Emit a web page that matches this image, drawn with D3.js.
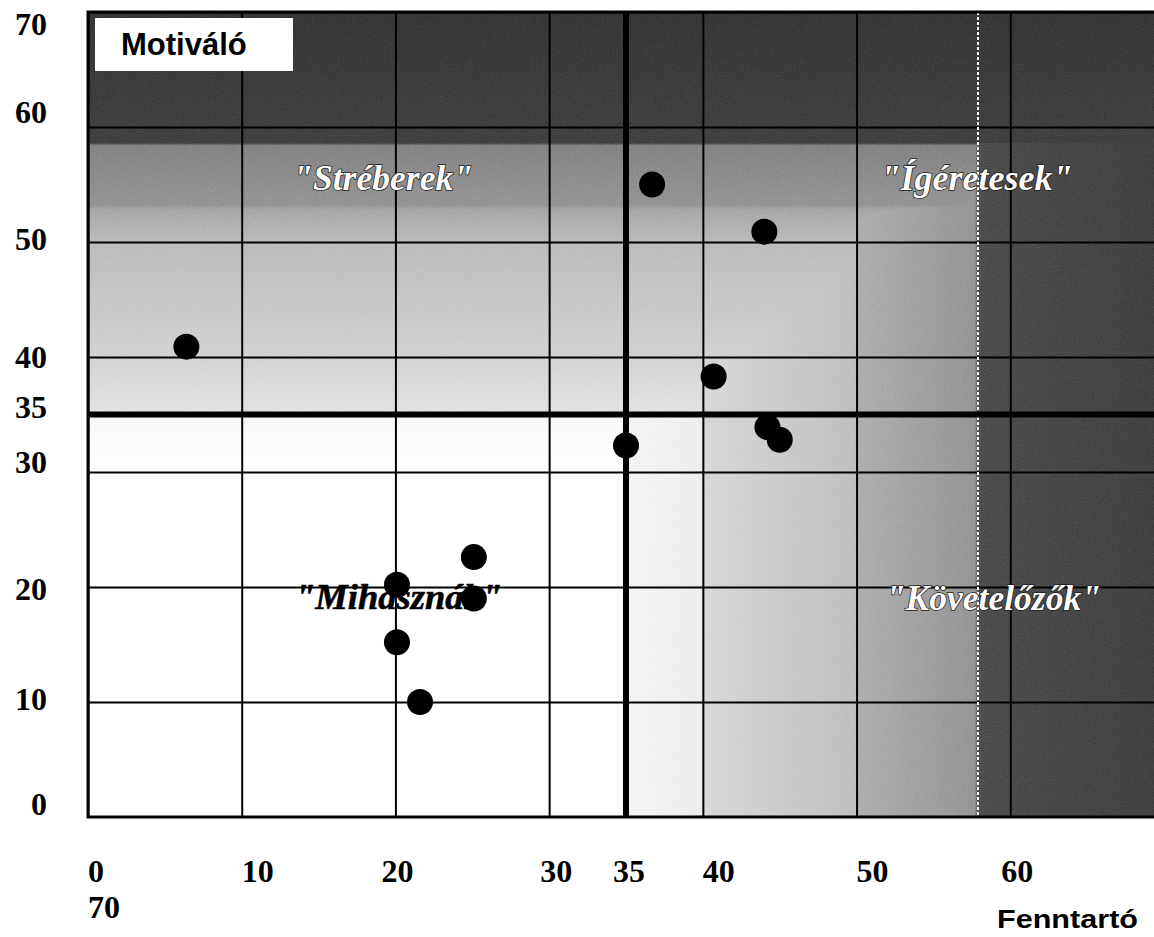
<!DOCTYPE html>
<html lang="hu">
<head>
<meta charset="UTF-8">
<title>Motiváló / Fenntartó</title>
<script src="https://cdn.jsdelivr.net/npm/d3@7"></script>
<style>
  body { margin: 0; background: #fff; }
  svg { display: block; }
</style>
</head>
<body>
<div id="chart"></div>
<script>
// values
const fenntarto = [6.4, 36.7, 44.0, 40.7, 35.0, 44.2, 45.0, 25.1, 20.1, 25.1, 20.1, 21.6];
const motivalo  = [40.9, 55.0, 50.9, 38.3, 32.3, 33.9, 32.8, 22.6, 20.2, 19.0, 15.2, 10.0];

const gridValues = [0, 10, 20, 30, 40, 50, 60, 70];
const xTicks = [0, 10, 20, 30, 35, 40, 50, 60];
const xWrapped = ['70'];
const yTicks = [70, 60, 50, 40, 35, 30, 20, 10, 0];
const split = 35;
const whiteLine = 57.9;

const quadrantNames = ['"Stréberek"', '"Ígéretesek"', '"Mihasznák"', '"Követelőzők"'];
const quadrantX = [19.2, 57.8, 20.2, 58.9];
const quadrantY = [54.5, 54.5, 18.1, 18.0];

// shading (value -> grey)
const vShade = [[70, '#262626'], [58.6, '#303030'], [58.4, '#747474'], [53.2, '#888888'], [52.8, '#9c9c9c'],
                [50, '#b2b2b2'], [40, '#cccccc'], [35.2, '#dedede'], [34.8, '#f7f7f7'], [30, '#ffffff']];
const hShade = [[35, '#f2f2f2'], [39.9, '#eaeaea'], [40.1, '#d2d2d2'], [49.9, '#b6b6b6'], [50.1, '#a4a4a4'],
                [57.7, '#888888'], [57.9, '#3c3c3c'], [70, '#303030']];

// layout
const W = 1154, H = 937;
const x = d3.scaleLinear().domain([0, 70]).range([88, 1164]);
const y = d3.scaleLinear().domain([0, 70]).range([817, 12]);
const xNudge = [0, 0, -14, -9, -13, 0, 0, -9];
const yNudge = [23, -4, 8, 11, 3, 1, 13, 8, -2];
const nameWidths = [180, 192, 207, 215];

const svg = d3.select('#chart').append('svg')
    .attr('width', W)
    .attr('height', H);

const defs = svg.append('defs');
defs.append('clipPath').attr('id', 'plot')
  .append('rect')
    .attr('x', x(0)).attr('y', y(70))
    .attr('width', x(70) - x(0)).attr('height', y(0) - y(70));

const vGrad = defs.append('linearGradient')
    .attr('id', 'vshade')
    .attr('gradientUnits', 'userSpaceOnUse')
    .attr('x1', 0).attr('x2', 0)
    .attr('y1', y(70)).attr('y2', y(30));
vGrad.selectAll('stop').data(vShade).enter().append('stop')
    .attr('offset', d => (y(d[0]) - y(70)) / (y(30) - y(70)))
    .attr('stop-color', d => d[1]);

const hGrad = defs.append('linearGradient')
    .attr('id', 'hshade')
    .attr('gradientUnits', 'userSpaceOnUse')
    .attr('y1', 0).attr('y2', 0)
    .attr('x1', x(35)).attr('x2', x(70));
hGrad.selectAll('stop').data(hShade).enter().append('stop')
    .attr('offset', d => (x(d[0]) - x(35)) / (x(70) - x(35)))
    .attr('stop-color', d => d[1]);

// scan grain
const grain = defs.append('filter').attr('id', 'grain')
    .attr('x', 0).attr('y', 0).attr('width', 1).attr('height', 1);
grain.append('feTurbulence')
    .attr('type', 'fractalNoise')
    .attr('baseFrequency', 0.9)
    .attr('numOctaves', 2)
    .attr('seed', 3);
grain.append('feColorMatrix')
    .attr('type', 'matrix')
    .attr('values', '0.33 0.33 0.33 0 0  0.33 0.33 0.33 0 0  0.33 0.33 0.33 0 0  0 0 0 0 1');

const plot = svg.append('g').attr('clip-path', 'url(#plot)');

// background shading, darker of the two zones wins
const shade = plot.append('g').style('isolation', 'isolate');
shade.append('rect')
    .attr('x', x(0)).attr('y', y(70))
    .attr('width', x(70) - x(0)).attr('height', y(0) - y(70))
    .attr('fill', '#fff');
shade.append('rect')
    .attr('x', x(0)).attr('y', y(70))
    .attr('width', x(70) - x(0)).attr('height', y(30) - y(70))
    .attr('fill', 'url(#vshade)');
shade.append('rect')
    .attr('x', x(35)).attr('y', y(70))
    .attr('width', x(70) - x(35)).attr('height', y(0) - y(70))
    .attr('fill', 'url(#hshade)')
    .style('mix-blend-mode', 'darken');
shade.append('rect')
    .attr('x', x(0)).attr('y', y(70))
    .attr('width', x(70) - x(0)).attr('height', y(0) - y(70))
    .attr('filter', 'url(#grain)')
    .style('opacity', 0.6)
    .style('mix-blend-mode', 'soft-light');

// grid
plot.append('g')
    .attr('transform', `translate(0,${y(0)})`)
    .call(d3.axisBottom(x).tickValues(gridValues).tickSize(-(y(0) - y(70))).tickFormat(''))
    .call(g => g.select('.domain').remove())
    .call(g => g.selectAll('line').attr('stroke', '#000').attr('stroke-width', 2));
plot.append('g')
    .attr('transform', `translate(${x(0)},0)`)
    .call(d3.axisLeft(y).tickValues(gridValues).tickSize(-(x(70) - x(0))).tickFormat(''))
    .call(g => g.select('.domain').remove())
    .call(g => g.selectAll('line').attr('stroke', '#000').attr('stroke-width', 2));

// white dashed line
plot.append('line')
    .attr('x1', x(whiteLine)).attr('x2', x(whiteLine))
    .attr('y1', y(70)).attr('y2', y(0))
    .attr('stroke', '#fff')
    .attr('stroke-width', 2)
    .attr('stroke-dasharray', '3,2');

// thick split lines
plot.append('line')
    .attr('x1', x(0)).attr('x2', x(70))
    .attr('y1', y(split)).attr('y2', y(split))
    .attr('stroke', '#000').attr('stroke-width', 6);
plot.append('line')
    .attr('x1', x(split)).attr('x2', x(split))
    .attr('y1', y(70)).attr('y2', y(0))
    .attr('stroke', '#000').attr('stroke-width', 6);

// frame
svg.append('path')
    .attr('d', `M${x(70)},${y(70)}H${x(0)}V${y(0)}H${x(70)}`)
    .attr('fill', 'none')
    .attr('stroke', '#000')
    .attr('stroke-width', 3);

// quadrant names
svg.append('g').selectAll('text')
    .data(quadrantNames)
    .enter()
    .append('text')
    .attr('x', (d, i) => x(quadrantX[i]))
    .attr('y', (d, i) => y(quadrantY[i]))
    .attr('text-anchor', 'middle')
    .attr('textLength', (d, i) => nameWidths[i])
    .attr('lengthAdjust', 'spacingAndGlyphs')
    .style('font-family', '"Liberation Serif", "Times New Roman", serif')
    .style('font-weight', 'bold')
    .style('font-style', 'italic')
    .style('font-size', '35px')
    .style('fill', (d, i) => i === 2 ? '#000' : '#fff')
    .style('stroke', (d, i) => i === 2 ? '#000' : '#1a1a1a')
    .style('stroke-width', (d, i) => i === 2 ? 0.6 : 1.5)
    .style('paint-order', 'stroke')
    .text(d => d);

// points
svg.append('g').selectAll('circle')
    .data(fenntarto)
    .enter()
    .append('circle')
    .attr('cx', d => x(d))
    .attr('cy', (d, i) => y(motivalo[i]))
    .attr('r', 13)
    .attr('fill', '#000');

// Motiváló box
svg.append('rect')
    .attr('x', 95).attr('y', 18)
    .attr('width', 198).attr('height', 53)
    .attr('fill', '#fff');
svg.append('text')
    .attr('x', 121).attr('y', 55)
    .style('font-family', '"Liberation Sans", Arial, sans-serif')
    .style('font-weight', 'bold')
    .style('font-size', '31px')
    .text('Motiváló');

// tick labels
const tickFont = g => g
    .style('font-family', '"Liberation Serif", "Times New Roman", serif')
    .style('font-weight', 'bold')
    .style('font-size', '32px')
    .style('fill', '#000');

svg.append('g').call(tickFont)
  .selectAll('text')
    .data(yTicks)
    .enter()
    .append('text')
    .attr('x', 47)
    .attr('y', (d, i) => y(d) + yNudge[i])
    .attr('text-anchor', 'end')
    .text(d => d);

svg.append('g').call(tickFont)
  .selectAll('text')
    .data(xTicks)
    .enter()
    .append('text')
    .attr('x', (d, i) => x(d) + xNudge[i])
    .attr('y', 882)
    .text(d => d);

svg.append('g').call(tickFont)
  .selectAll('text')
    .data(xWrapped)
    .enter()
    .append('text')
    .attr('x', x(0))
    .attr('y', 918)
    .text(d => d);

// axis title
svg.append('text')
    .attr('x', 997).attr('y', 928)
    .attr('textLength', 141)
    .attr('lengthAdjust', 'spacingAndGlyphs')
    .style('font-family', '"Liberation Sans", Arial, sans-serif')
    .style('font-weight', 'bold')
    .style('font-size', '25px')
    .text('Fenntartó');
</script>
</body>
</html>
